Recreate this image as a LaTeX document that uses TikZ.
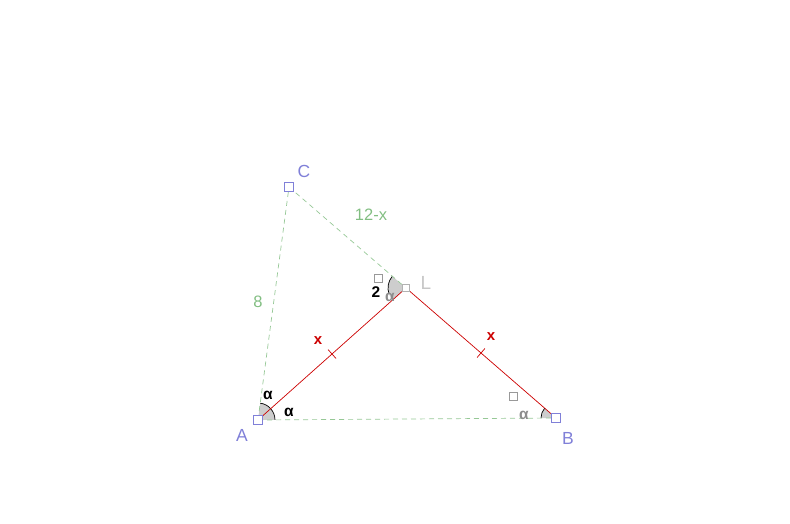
\documentclass[tikz,border=0pt]{standalone}
\usepackage{fontspec}
\setmainfont{Liberation Sans}
\usetikzlibrary{calc}
\definecolor{ptblue}{RGB}{128,128,216}
\definecolor{lgreen}{RGB}{150,200,150}
\definecolor{tgreen}{RGB}{130,190,130}
\definecolor{segred}{RGB}{204,0,0}
\definecolor{angfill}{RGB}{205,205,205}
\begin{document}
\begin{tikzpicture}[x=1pt,y=1pt,
  aux/.style={lgreen,dashed,dash pattern=on 5pt off 4pt,line width=0.7pt},
  seg/.style={segred,line width=0.7pt},
  ptmark/.style={draw=ptblue,fill=white,line width=0.8pt,minimum size=9pt,inner sep=0pt,rectangle},
  ptlab/.style={text=ptblue,font=\fontsize{17.5}{19}\selectfont},
  glab/.style={text=tgreen,font=\fontsize{16.5}{18}\selectfont},
  rlab/.style={text=segred,font=\bfseries\fontsize{15}{17}\selectfont},
  alab/.style={font=\bfseries\fontsize{15.5}{17}\selectfont},
  gbox/.style={draw=gray!80,fill=white,line width=0.7pt,minimum size=8pt,inner sep=0pt,rectangle}]
\useasboundingbox (0,0) rectangle (790,523);
\coordinate (A) at (258,103);
\coordinate (B) at (556,105);
\coordinate (C) at (289,336);
\coordinate (L) at (406,235);
% angle sectors
\fill[angfill] (A) -- ++(0.4:17) arc[start angle=0.4,end angle=82.4,radius=17] -- cycle;
\draw[black,line width=0.7pt] ($(A)+(0.4:17)$) arc[start angle=0.4,end angle=82.4,radius=17];
\fill[angfill] (L) -- ++(139.2:18) arc[start angle=139.2,end angle=221.7,radius=18] -- cycle;
\draw[black,line width=0.7pt] ($(L)+(139.2:18)$) arc[start angle=139.2,end angle=200,radius=18];
\fill[angfill] (B) -- ++(139.1:15) arc[start angle=139.1,end angle=180.4,radius=15] -- cycle;
\draw[black,line width=0.7pt] ($(B)+(139.1:15)$) arc[start angle=139.1,end angle=180.4,radius=15];
% auxiliary lines
\draw[aux] (A) -- (C);
\draw[aux] (C) -- (L);
\draw[aux] (A) -- (B);
% red segments
\draw[seg] (A) -- (L);
\draw[seg] (L) -- (B);
% tick marks
\draw[seg] ($(A)!0.5!(L)+(131.7:6)$) -- ($(A)!0.5!(L)+(311.7:6)$);
\draw[seg] ($(L)!0.5!(B)+(49.1:6)$) -- ($(L)!0.5!(B)+(229.1:6)$);
% point markers
\node[ptmark] (mA) at (A) {};
\node[ptmark] (mB) at (B) {};
\node[ptmark] (mC) at (C) {};
\node[draw=gray!60,fill=white,line width=0.6pt,minimum size=7.5pt,inner sep=0pt,rectangle] (mL) at (L) {};
% gray boxes
\node[gbox] (g1) at (378,245) {};
\node[gbox] (g2) at (513,127) {};
% labels
\node[ptlab] (lA) at (242,88) {A};
\node[ptlab] (lB) at (568,85) {B};
\node[ptlab] (lC) at (304,352) {C};
\node[text=gray!45,font=\fontsize{19}{21}\selectfont] (lL) at (426,240) {L};
\node[glab] (l12) at (371,308) {12-x};
\node[glab] (l8) at (258,221) {8};
\node[rlab] (x1) at (318,182) {x};
\node[rlab] (x2) at (491,186) {x};
\node[alab] (a1) at (268,128) {α};
\node[alab] (a2) at (289,111) {α};
\node[alab,text=gray!90] (a3) at (390,226) {α};
\node[alab,text=gray!90] (a4) at (524,108) {α};
\node[alab] (n2) at (376,231) {2};
\end{tikzpicture}
\end{document}
